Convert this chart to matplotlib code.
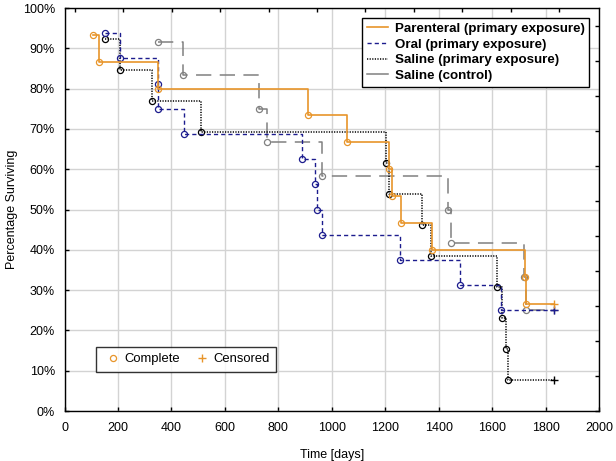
import matplotlib
matplotlib.use("Agg")
import matplotlib.pyplot as plt
from matplotlib.lines import Line2D
import numpy as np

plt.rcParams['font.family'] = ['Liberation Sans', 'DejaVu Sans']

# ---- data (days, % surviving) ----
par_t = [107, 129, 351, 912, 1057, 1215, 1225, 1260, 1374, 1722, 1725]
par_s = [93.33, 86.67, 80.0, 73.33, 66.67, 60.0, 53.33, 46.67, 40.0, 33.33, 26.67]
par_c = 1830

oral_t = [153, 206, 349, 350, 446, 888, 936, 945, 964, 1256, 1480, 1632]
oral_s = [93.75, 87.5, 81.25, 75.0, 68.75, 62.5, 56.25, 50.0, 43.75, 37.5, 31.25, 25.0]
oral_c = 1830

sal_t = [153, 206, 326, 511, 1202, 1215, 1339, 1371, 1617, 1636, 1651, 1661]
sal_s = [92.31, 84.62, 76.92, 69.23, 61.54, 53.85, 46.15, 38.46, 30.77, 23.08, 15.38, 7.69]
sal_c = 1830

ctl_t = [349, 442, 727, 757, 964, 1434, 1445, 1720, 1725]
ctl_s = [91.67, 83.33, 75.0, 66.67, 58.33, 50.0, 41.67, 33.33, 25.0]
ctl_c = 1830

labels = ["Parenteral (primary exposure)", "Oral (primary exposure)",
          "Saline (primary exposure)", "Saline (control)"]
x_ticks = list(range(0, 2001, 200))
y_ticks = list(range(0, 101, 10))

ORANGE = '#E8952A'
NAVY = '#1C1C8E'
BLACK = '#000000'
GRAY = '#808080'

W, H = 616, 461
fig = plt.figure(figsize=(W / 100, H / 100), dpi=100)
L, R, T, B = 64.6, 599, 8, 411
ax = fig.add_axes([L / W, (H - B) / H, (R - L) / W, (B - T) / H])

series = [
    (ctl_t, ctl_s, ctl_c, GRAY, dict(linestyle=(0, (10, 5.5)), linewidth=1.1), 2),
    (sal_t, sal_s, sal_c, BLACK, dict(linestyle=(0, (0.8, 0.9)), linewidth=1.1), 3),
    (oral_t, oral_s, oral_c, NAVY, dict(linestyle=(0, (3.0, 2.2)), linewidth=1.0), 4),
    (par_t, par_s, par_c, ORANGE, dict(linestyle='-', linewidth=1.2), 5),
]

for t, s, c, col, ls, z in series:
    xs = list(t) + [c]
    ys = list(s) + [s[-1]]
    ax.plot(xs, ys, drawstyle='steps-post', color=col, zorder=z, **ls)
    ax.plot(t, s, linestyle='none', marker='o', markersize=4.4, markerfacecolor='none',
            markeredgecolor=col, markeredgewidth=0.9, zorder=z + 0.5)
    ax.plot([c], [s[-1]], linestyle='none', marker='+', markersize=6, markeredgecolor=col,
            markeredgewidth=1.0, zorder=z + 0.5)

ax.set_xlim(0, 2000)
ax.set_ylim(0, 100)
ax.set_xticks(x_ticks)
ax.set_yticks(y_ticks)
ax.set_yticklabels([f"{v}%" for v in y_ticks])
ax.grid(True, color='#d3d3d3', linewidth=1.0, zorder=0)
ax.set_axisbelow(True)
ax.tick_params(direction='in', length=3, width=1, labelsize=9, colors='black')
ax.tick_params(axis='y', pad=7)
ax.tick_params(axis='x', pad=8)
for sp in ax.spines.values():
    sp.set_linewidth(1.0)
    sp.set_color('black')

ax.set_xlabel("Time [days]", fontsize=9, labelpad=11)
ax.set_ylabel("Percentage Surviving", fontsize=9, labelpad=3)

# secondary tick marks on right and top spines
ax2 = ax.twinx()
ax2.set_ylim(0, (B - T) / 35.0)
ax2.set_yticks(range(12))
ax2.set_yticklabels([])
ax2.tick_params(direction='in', length=3, width=1)
ax3 = ax.twiny()
ax3.set_xlim((L - 75) / 48.4, (R - 75) / 48.4)
ax3.set_xticks(range(11))
ax3.set_xticklabels([])
ax3.tick_params(direction='in', length=3, width=1)
for a in (ax2, ax3):
    for sp in a.spines.values():
        sp.set_visible(False)

# legends
h1 = [Line2D([], [], color=ORANGE, linestyle='-', linewidth=1.2),
      Line2D([], [], color=NAVY, linestyle=(0, (3.0, 2.2)), linewidth=1.0),
      Line2D([], [], color=BLACK, linestyle=(0, (0.8, 0.9)), linewidth=1.1),
      Line2D([], [], color=GRAY, linestyle='-', linewidth=1.1)]
leg1 = ax3.legend(h1, labels, loc='upper left', bbox_to_anchor=(362 / W, 1 - 18 / H),
                  bbox_transform=fig.transFigure, frameon=True, fancybox=False,
                  prop=dict(weight='bold', size=9.6), handlelength=1.6, handletextpad=0.5,
                  labelspacing=0.25, borderpad=0.35, borderaxespad=0)
leg1.get_frame().set_edgecolor('black')
leg1.get_frame().set_linewidth(1.0)
leg1.get_frame().set_alpha(1)
ax3.add_artist(leg1)

h2 = [Line2D([], [], linestyle='none', marker='o', markersize=4.4, markerfacecolor='none',
             markeredgecolor=ORANGE, markeredgewidth=0.9),
      Line2D([], [], linestyle='none', marker='+', markersize=6, markeredgecolor=ORANGE,
             markeredgewidth=1.0)]
leg2 = ax3.legend(h2, ["Complete", "Censored"], loc='lower left',
                  bbox_to_anchor=(96 / W, (H - 372) / H), bbox_transform=fig.transFigure,
                  ncol=2, frameon=True, fancybox=False, prop=dict(size=9.4),
                  handlelength=1.6, handletextpad=0.05, columnspacing=0.9,
                  borderpad=0.5, borderaxespad=0)
leg2.get_frame().set_edgecolor('black')
leg2.get_frame().set_linewidth(1.0)

fig.savefig("out.png", dpi=100)
